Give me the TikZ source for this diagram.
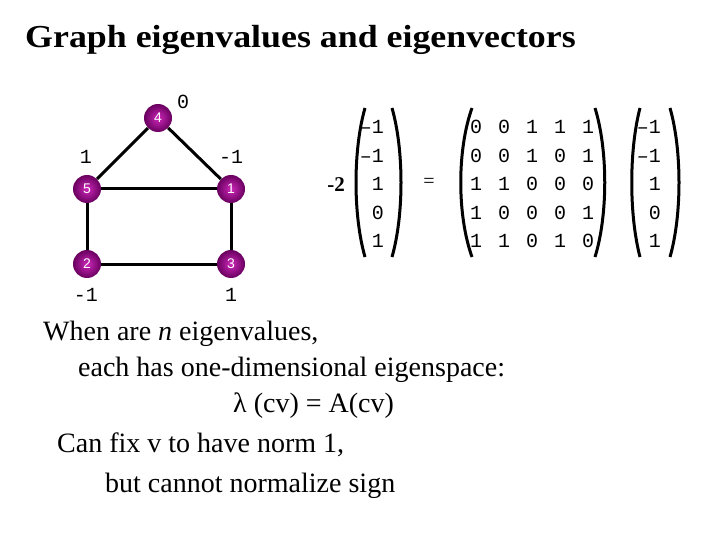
\documentclass[tikz,border=0pt]{standalone}
\usepackage{fontspec}
\setmainfont{Liberation Serif}
\newfontfamily\monofont{Liberation Mono}
\newfontfamily\vertexfont{Liberation Sans}

\definecolor{balllight}{RGB}{205,40,185}
\definecolor{balldark}{RGB}{105,0,95}

\tikzset{
  vertex/.style={circle, minimum size=28pt, inner sep=0pt, shading=radial,
    inner color=balllight, outer color=balldark,
    text=white, font=\vertexfont\fontsize{14}{14}\selectfont},
  num/.style={font=\monofont\fontsize{20}{20}\selectfont, inner sep=0pt},
  body/.style={font=\fontsize{28}{28}\selectfont, anchor=base west, inner sep=0pt},
  paren/.style={line width=3pt},
  edge/.style={line width=3pt}
}

\begin{document}
\begin{tikzpicture}[x=1pt, y=-1pt]
                \fill[white] (0,0) rectangle (720,540);
                \useasboundingbox (0,0) rectangle (720,540);

                % Title
                \node[anchor=base west, inner sep=0pt, xscale=1.12,
                  font=\bfseries\fontsize{32}{32}\selectfont] (title) at (25,48)
                  {Graph eigenvalues and eigenvectors};

                % Nodes
                \node[vertex] (4) at (158,118) {4};
                \node[vertex] (5) at (87,189) {5};
                \node[vertex] (1) at (231,189) {1};
                \node[vertex] (2) at (87,264) {2};
                \node[vertex] (3) at (231,264) {3};

                % Edges
                \draw[edge] (4)--(5);
                \draw[edge] (4)--(1);
                \draw[edge] (5)--(1);
                \draw[edge] (5)--(2);
                \draw[edge] (1)--(3);
                \draw[edge] (2)--(3);

                % Eigenvector values
                \node[num] (v4) at (183,102) {0};
                \node[num] (v5) at (86,157) {1};
                \node[num] (v1) at (231,157) {-1};
                \node[num] (v2) at (86,295) {-1};
                \node[num] (v3) at (231,295) {1};

                % Equation
                \node[inner sep=0pt, font=\bfseries\fontsize{21}{21}\selectfont] (lambda) at (336,185) {-2};
                \draw[paren] (365,108) .. controls (353,150) and (353,215) .. (365,257);
                \draw[paren] (392,108) .. controls (404,150) and (404,215) .. (392,257);
                \foreach \val [count=\r] in {–1,–1,1,0,1}
                  \node[num, anchor=east] (x\r) at (384,127+28.5*\r-28.5) {\val};
                \node[inner sep=0pt, font=\fontsize{20}{20}\selectfont] (eq) at (429,183) {=};
                \draw[paren] (472,108) .. controls (457,150) and (457,215) .. (472,257);
                \draw[paren] (595,108) .. controls (608,150) and (608,215) .. (595,257);
                \foreach \row [count=\r] in {{0,0,1,1,1},{0,0,1,0,1},{1,1,0,0,0},{1,0,0,0,1},{1,1,0,1,0}}
                  \foreach \val [count=\c] in \row
                    \node[num] (a\r\c) at (476+28*\c-28,127+28.5*\r-28.5) {\val};
                \draw[paren] (640,108) .. controls (629,150) and (629,215) .. (640,257);
                \draw[paren] (670,108) .. controls (682,150) and (682,215) .. (670,257);
                \foreach \val [count=\r] in {–1,–1,1,0,1}
                  \node[num, anchor=east] (y\r) at (661,127+28.5*\r-28.5) {\val};

                % Text
                \node[body] (t1) at (43,340) {When are \textit{n} eigenvalues,};
                \node[body] (t2) at (78,376) {each has one-dimensional eigenspace:};
                \node[body] (t3) at (233,412) {λ (cv) = A(cv)};
                \node[body] (t4) at (57,452) {Can fix v to have norm 1,};
                \node[body] (t5) at (105,492) {but cannot normalize sign};
            \end{tikzpicture}
\end{document}
